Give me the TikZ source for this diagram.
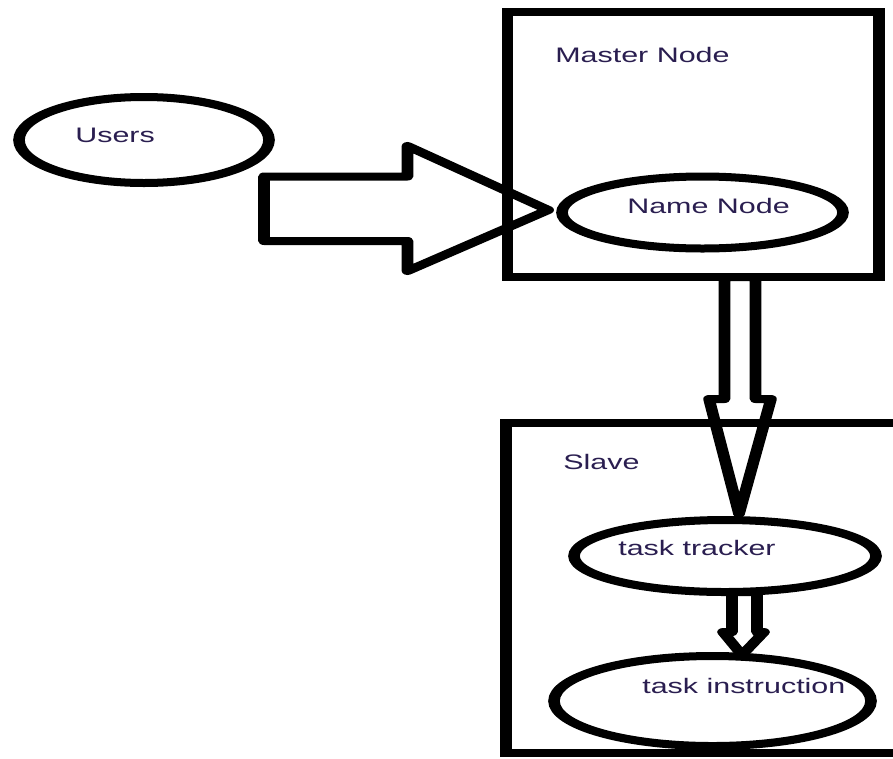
\documentclass[tikz,border=0pt]{standalone}
\usepackage{fontspec}
\setmainfont{Liberation Sans}
\usetikzlibrary{shapes.geometric,calc}
\definecolor{txt}{RGB}{42,30,80}
\tikzset{
  stroke/.style={draw=black, line width=8pt},
  ell/.style 2 args={stroke, ellipse, inner sep=0pt, minimum width=#1pt/1.45, minimum height=#2pt},
  box/.style 2 args={stroke, rectangle, line join=miter, inner sep=0pt, minimum width=#1pt/1.45, minimum height=#2pt},
  blockarrow/.style={stroke, line join=round},
  lbl/.style={anchor=base west, inner sep=0pt, text=txt, font=\fontsize{21}{25}\selectfont}
}
\begin{document}
\begin{tikzpicture}[x=1pt, y=-1pt]
\useasboundingbox (0,0) rectangle (893,758);
\fill[white] (0,0) rectangle (893,758);
\clip (0,0) rectangle (893,758);
\begin{scope}[transform canvas={xscale=1.45}, x=0.689655pt, y=-1pt]
  % boxes
  \node[box={371.5}{265}] (master) at (693.25,144.5) {};
  \node[box={414}{330.5}] (slave) at (713,587.75) {};
  % ellipses
  \node[ell={250}{86}] (users) at (144,140) {};
  \node[ell={281}{72}] (nn) at (702.5,212.5) {};
  \node[ell={302}{72}] (tt) at (725,556) {};
  \node[ell={317}{90}] (ti) at (712.5,701) {};
  % labels
  \node[lbl] (lusers) at (75,142) {Users};
  \node[lbl] (lmaster) at (555,62) {Master Node};
  \node[lbl] (lnn) at (627,213) {Name Node};
  \node[lbl] (lslave) at (563,469) {Slave};
  \node[lbl] (ltt) at (618,555) {task tracker};
  \node[lbl] (lti) at (642,693) {task instruction};
  % big arrow: users -> name node
  \draw[blockarrow] (264,176.5) -- (407.5,176.5) -- (407.5,146)
        -- ($(nn.west)+(-8,-2.5)$) -- (407.5,271) -- (407.5,241) -- (264,241) -- cycle;
  % master -> task tracker
  \draw[blockarrow] (724.5,277) -- (724.5,399) -- (709,399)
        -- ($(tt.north)+(14,-2)$) -- (771,399) -- (755.5,399) -- (755.5,277) -- cycle;
  % task tracker -> task instruction
  \draw[blockarrow] (732,592) -- (732,632) -- (723,632)
        -- ($(ti.north)+(29.5,3)$) -- (764,632) -- (757,632) -- (757,592) -- cycle;
\end{scope}
\end{tikzpicture}
\end{document}
